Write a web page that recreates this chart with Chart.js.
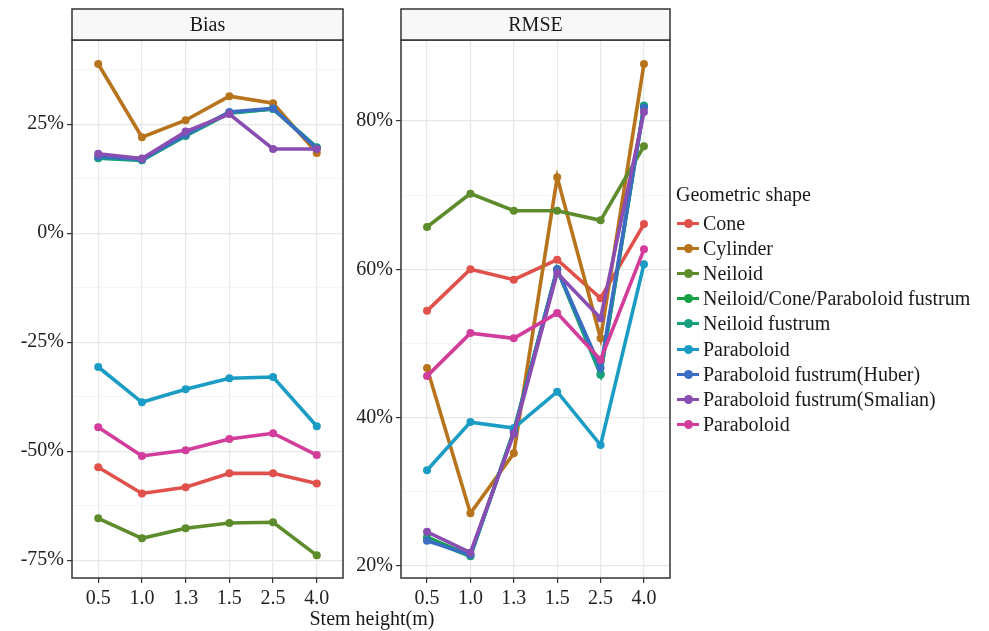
<!DOCTYPE html>
<html>
<head>
<meta charset="utf-8">
<script src="https://cdn.jsdelivr.net/npm/chart.js@4.4.1/dist/chart.umd.min.js"></script>
<style>
  body { margin: 0; background: #fff; font-family: "Liberation Serif", "Times New Roman", serif; }
  #wrap { position: relative; width: 989px; height: 631px; overflow: hidden; }
  canvas { position: absolute; top: 0; }
  #xtitle { position: absolute; left: 272px; width: 200px; top: 607px; text-align: center; font-size: 20px; color: #1a1a1a; }
  #legend { position: absolute; left: 676px; top: 182px; color: #1a1a1a; font-size: 20px; }
  #legend .ttl { height: 25px; line-height: 25px; margin-bottom: 4px; }
  #legend .item { height: 25.1px; display: flex; align-items: center; }
  #legend .key { position: relative; width: 24px; height: 25px; margin-right: 3px; }
  #legend .key .ln { position: absolute; left: 1px; top: 11px; width: 22px; height: 3px; }
  #legend .key .dt { position: absolute; left: 8px; top: 8px; width: 9px; height: 9px; border-radius: 50%; }
</style>
</head>
<body>
<div id="wrap">
  <canvas id="biasChart" width="350" height="631" style="left:0px"></canvas>
  <canvas id="rmseChart" width="335" height="631" style="left:345px"></canvas>
  <div id="xtitle">Stem height(m)</div>
  <div id="legend"></div>
</div>
<script>
  // stem heights on the x axis
  const heights = ['0.5', '1.0', '1.3', '1.5', '2.5', '4.0'];

  const shapes = ['Cone', 'Cylinder', 'Neiloid', 'Neiloid/Cone/Paraboloid fustrum', 'Neiloid fustrum',
    'Paraboloid', 'Paraboloid fustrum(Huber)', 'Paraboloid fustrum(Smalian)', 'Paraboloid'];
  const colors = ['#e0514b', '#b8741d', '#5e8c2c', '#14a043', '#16a07c', '#1a9cc4', '#3b6dc2', '#8a4db2', '#d23c9a'];

  // Bias (%) per shape
  const biasCone       = [-53.7, -59.7, -58.3, -55.1, -55.1, -57.4];
  const biasCylinder   = [38.8, 22.0, 25.9, 31.4, 29.8, 18.4];
  const biasNeiloid    = [-65.4, -70.0, -67.7, -66.5, -66.3, -73.9];
  const biasNCPfustrum = [17.3, 16.8, 22.4, 27.6, 28.5, 19.6];
  const biasNeiloidF   = [17.2, 16.7, 22.3, 27.5, 28.5, 19.7];
  const biasParab      = [-30.7, -38.8, -35.8, -33.3, -33.0, -44.3];
  const biasHuber      = [17.6, 16.9, 22.6, 27.8, 28.6, 19.4];
  const biasSmalian    = [18.2, 17.1, 23.3, 27.3, 19.3, 19.3];
  const biasParab2     = [-44.5, -51.1, -49.8, -47.2, -45.9, -50.9];

  // RMSE (%) per shape
  const rmseCone       = [54.4, 60.0, 58.6, 61.3, 56.1, 66.1];
  const rmseCylinder   = [46.7, 27.1, 35.2, 72.4, 50.7, 87.7];
  const rmseNeiloid    = [65.7, 70.2, 67.9, 67.9, 66.6, 76.6];
  const rmseNCPfustrum = [23.9, 21.4, 38.2, 60.0, 45.9, 82.0];
  const rmseNeiloidF   = [23.6, 21.3, 38.2, 60.0, 45.8, 82.1];
  const rmseParab      = [32.9, 39.4, 38.6, 43.5, 36.3, 60.7];
  const rmseHuber      = [23.4, 21.5, 38.0, 60.0, 46.7, 81.8];
  const rmseSmalian    = [24.6, 21.8, 37.8, 59.5, 53.4, 81.2];
  const rmseParab2     = [45.6, 51.4, 50.7, 54.1, 47.8, 62.7];

  const biasSeries = [biasCone, biasCylinder, biasNeiloid, biasNCPfustrum, biasNeiloidF, biasParab, biasHuber, biasSmalian, biasParab2];
  const rmseSeries = [rmseCone, rmseCylinder, rmseNeiloid, rmseNCPfustrum, rmseNeiloidF, rmseParab, rmseHuber, rmseSmalian, rmseParab2];

  const biasTicks = [-75, -50, -25, 0, 25];
  const biasMinor = [-62.5, -37.5, -12.5, 12.5, 37.5];
  const rmseTicks = [20, 40, 60, 80];
  const rmseMinor = [30, 50, 70, 90];

  const FONT = '"Liberation Serif", "Times New Roman", serif';
  Chart.defaults.font.family = FONT;
  Chart.defaults.font.size = 20;
  Chart.defaults.color = '#222';

  // panel border + facet strip like ggplot theme_bw
  const panelFrame = {
    id: 'panelFrame',
    afterDraw(chart, args, opts) {
      const ctx = chart.ctx, a = chart.chartArea;
      ctx.save();
      ctx.strokeStyle = '#333';
      ctx.lineWidth = 1.5;
      ctx.strokeRect(a.left, a.top, a.right - a.left, a.bottom - a.top);
      ctx.fillStyle = '#f8f8f8';
      ctx.fillRect(a.left, 9, a.right - a.left, a.top - 9);
      ctx.strokeRect(a.left, 9, a.right - a.left, a.top - 9);
      ctx.fillStyle = '#1a1a1a';
      ctx.font = '20px ' + FONT;
      ctx.textAlign = 'center';
      ctx.textBaseline = 'middle';
      ctx.fillText(opts.label, (a.left + a.right) / 2, (9 + a.top) / 2 + 1);
      ctx.restore();
    }
  };

  function makeChart(id, series, label, yMin, yMax, majors, minors, yWidth, padRight) {
    const allTicks = majors.concat(minors).sort((a, b) => a - b);
    const datasets = series.map((vals, i) => ({
      label: shapes[i],
      data: vals.map((v, j) => ({ x: j, y: v })),
      borderColor: colors[i],
      backgroundColor: colors[i],
      borderWidth: 3.6,
      pointRadius: 4,
      pointBorderWidth: 0,
      tension: 0,
      order: -i
    }));
    return new Chart(document.getElementById(id), {
      type: 'line',
      data: { datasets: datasets },
      options: {
        responsive: false,
        animation: false,
        devicePixelRatio: 1,
        layout: { padding: { top: 40, right: padRight, left: 0, bottom: 0 } },
        plugins: {
          legend: { display: false },
          tooltip: { enabled: false },
          panelFrame: { label: label }
        },
        scales: {
          x: {
            type: 'linear',
            min: -0.6,
            max: 5.6,
            afterBuildTicks: axis => { axis.ticks = heights.map((h, i) => ({ value: i })); },
            afterFit: axis => { axis.height = 53; },
            ticks: {
              padding: 4,
              maxRotation: 0,
              autoSkip: false,
              callback: v => heights[v]
            },
            grid: { color: '#e8e8e8', lineWidth: 1.2, tickLength: 5, tickColor: '#333' },
            border: { display: false }
          },
          y: {
            type: 'linear',
            min: yMin,
            max: yMax,
            afterBuildTicks: axis => { axis.ticks = allTicks.map(v => ({ value: v })); },
            afterFit: axis => { axis.width = yWidth; },
            ticks: {
              padding: 3,
              autoSkip: false,
              callback: v => majors.includes(v) ? v + '%' : ''
            },
            grid: {
              color: c => majors.includes(c.tick.value) ? '#e6e6e6' : '#f3f3f3',
              lineWidth: c => majors.includes(c.tick.value) ? 1.2 : 0.8,
              tickLength: 5,
              tickColor: c => majors.includes(c.tick.value) ? '#333' : 'rgba(0,0,0,0)'
            },
            border: { display: false }
          }
        }
      },
      plugins: [panelFrame]
    });
  }

  makeChart('biasChart', biasSeries, 'Bias', -79.1, 44.3, biasTicks, biasMinor, 72, 7);
  makeChart('rmseChart', rmseSeries, 'RMSE', 18.38, 90.92, rmseTicks, rmseMinor, 56, 10);

  // legend
  const legend = document.getElementById('legend');
  let html = '<div class="ttl">Geometric shape</div>';
  shapes.forEach((s, i) => {
    html += '<div class="item"><span class="key"><span class="ln" style="background:' + colors[i] +
      '"></span><span class="dt" style="background:' + colors[i] + '"></span></span>' + s + '</div>';
  });
  legend.innerHTML = html;
</script>
</body>
</html>
